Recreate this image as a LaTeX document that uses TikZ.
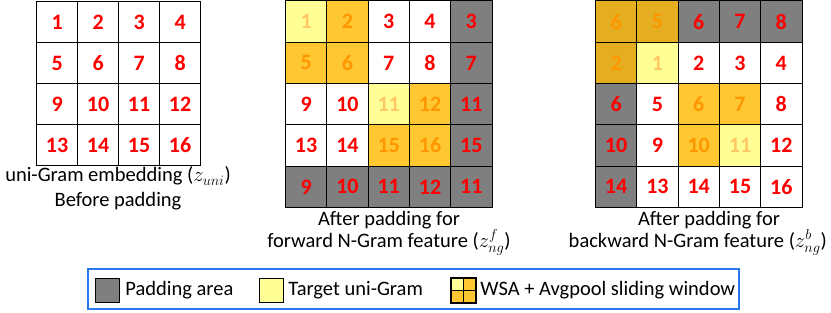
\documentclass[tikz,border=0pt]{standalone}
\usepackage{fontspec}
\setmainfont{Carlito}
\usetikzlibrary{positioning}
\definecolor{padgray}{RGB}{127,127,127}
\definecolor{tgtyellow}{RGB}{255,255,150}
\definecolor{winorange}{RGB}{255,200,50}
\definecolor{wingold}{RGB}{228,174,32}
\definecolor{numred}{RGB}{255,0,0}
\definecolor{numorange}{RGB}{255,150,0}
\definecolor{numpale}{RGB}{255,200,100}
\definecolor{legblue}{RGB}{40,120,240}

\begin{document}
\begin{tikzpicture}[x=1pt, y=-1pt,
  cell/.style={draw=black, line width=0.9pt, minimum size=41.3pt, inner sep=0pt, anchor=north west,
    font=\fontsize{22}{22}\selectfont\bfseries, text=numred},
  cellw/.style={cell, fill=white},
  cellg/.style={cell, fill=padgray},
  celly/.style={cell, fill=tgtyellow, text=numpale},
  cello/.style={cell, fill=winorange, text=numorange},
  celld/.style={cell, fill=wingold, text=numorange},
  captext/.style={anchor=base, inner sep=0pt, font=\fontsize{20.5}{24}\selectfont},
  swatch/.style={draw=black, line width=1.4pt, minimum size=24pt, inner sep=0pt},
  legtext/.style={font=\fontsize{20.5}{24}\selectfont, inner sep=1pt}]
  \useasboundingbox (0,0) rectangle (831,313);

  \foreach \t/\n [count=\i from 0] in {w/1,w/2,w/3,w/4,w/5,w/6,w/7,w/8,w/9,w/10,w/11,w/12,w/13,w/14,w/15,w/16}{
    \pgfmathtruncatemacro\r{\i/4}
    \pgfmathtruncatemacro\c{mod(\i,4)}
    \node[cell\t] (u\i) at (36+41*\c, 1+41*\r) {\n};
  }
  \foreach \t/\n [count=\i from 0] in {y/1,o/2,w/3,w/4,g/3, o/5,o/6,w/7,w/8,g/7, w/9,w/10,y/11,o/12,g/11,
      w/13,w/14,o/15,o/16,g/15, g/9,g/10,g/11,g/12,g/11}{
    \pgfmathtruncatemacro\r{\i/5}
    \pgfmathtruncatemacro\c{mod(\i,5)}
    \node[cell\t] (f\i) at (285+41.3*\c, 0.5+41.3*\r) {\n};
  }
  \foreach \t/\n [count=\i from 0] in {d/6,d/5,g/6,g/7,g/8, d/2,y/1,w/2,w/3,w/4, g/6,w/5,o/6,o/7,w/8,
      g/10,w/9,o/10,y/11,w/12, g/14,w/13,w/14,w/15,w/16}{
    \pgfmathtruncatemacro\r{\i/5}
    \pgfmathtruncatemacro\c{mod(\i,5)}
    \node[cell\t] (b\i) at (595+41.3*\c, 0.5+41.3*\r) {\n};
  }

  \node[captext] (capu1) at (118,182) {uni-Gram embedding ($z_{uni}$)};
  \node[captext] (capu2) at (118,206) {Before padding};
  \node[captext] (capf1) at (389,225) {After padding for};
  \node[captext] (capf2) at (389,247) {forward N-Gram feature ($z^{f}_{ng}$)};
  \node[captext] (capb1) at (709,225) {After padding for};
  \node[captext, anchor=base east] (capb2) at (827,247) {backward N-Gram feature ($z^{b}_{ng}$)};

  \draw[legblue, line width=1.5pt] (88,269) rectangle (739,309);
  \node[swatch, fill=padgray] (padsw) at (107.5,290.5) {};
  \node[legtext, right=4pt of padsw] (padtx) {Padding area};
  \node[swatch, fill=tgtyellow] (tgtsw) at (271.5,290.5) {};
  \node[legtext, right=3pt of tgtsw] (tgttx) {Target uni-Gram};
  \node[swatch, fill=winorange] (winsw) at (463.5,290.5) {};
  \fill[tgtyellow] (winsw.north west) rectangle (winsw.center);
  \draw[line width=1.4pt] (winsw.north) -- (winsw.south) (winsw.west) -- (winsw.east)
    (winsw.north west) rectangle (winsw.south east);
  \node[legtext, right=3pt of winsw] (wintx) {WSA + Avgpool sliding window};
\end{tikzpicture}
\end{document}
